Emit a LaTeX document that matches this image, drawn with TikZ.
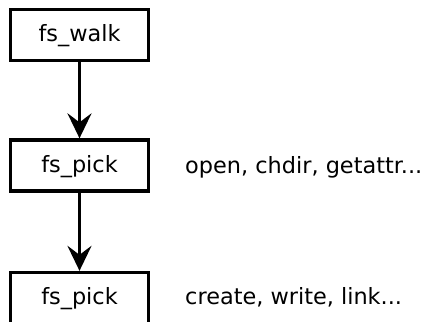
\documentclass[tikz,border=0pt]{standalone}
\usepackage{fontspec}
\setmainfont{DejaVu Sans}
\usetikzlibrary{arrows.meta}

\begin{document}
\begin{tikzpicture}[x=1pt, y=1pt,
    font=\fontsize{22.4}{26}\selectfont,
    fsbox/.style={draw, line width=3.3pt, minimum width=138pt, minimum height=51pt,
                  inner sep=0pt, text height=14pt, text depth=0pt},
    >={Stealth[length=25pt, width=24pt, inset=9pt]}]
    \useasboundingbox (0,0) rectangle (424,322);
    \node [fsbox] (walk) at (79.5,287) {fs\_walk};
    \node [fsbox] (pick) at (79.5,156.5) {fs\_pick};
    \node [fsbox] (pickw) at (79.5,24) {fs\_pick};
    \draw [->, line width=3.3pt] (walk) -- (pick);
    \draw [->, line width=3.3pt] (pick) -- (pickw);
    \node at (185,148.7) [anchor=base west, inner sep=0pt] (lookup) {open, chdir, getattr...};
    \node at (185,17) [anchor=base west, inner sep=0pt] (modify) {create, write, link...};
    \end{tikzpicture}
\end{document}
